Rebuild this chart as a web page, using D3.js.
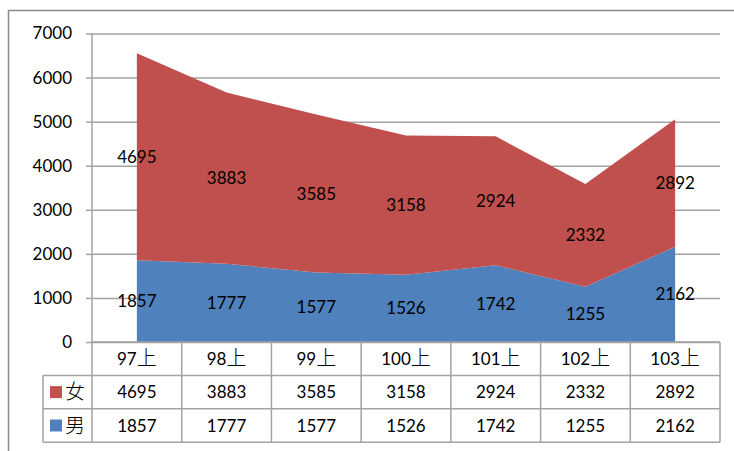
<!DOCTYPE html>
<html>
<head>
<meta charset="utf-8">
<script src="https://cdn.jsdelivr.net/npm/d3@7"></script>
<style>
  body { margin: 0; background: #fff; }
  text { font-family: Lato, "Noto Sans CJK TC", sans-serif; fill: #000; }
  .cjk { font-family: "Noto Sans CJK TC", sans-serif; font-weight: 300; }
</style>
</head>
<body>
<script>
const width = 734;
const height = 451;
const plot = { left: 92, right: 720, top: 33.5, bottom: 342 };
const rowHeight = 33.4;

const categories = ['97上', '98上', '99上', '100上', '101上', '102上', '103上'];
const male = [1857, 1777, 1577, 1526, 1742, 1255, 2162];
const female = [4695, 3883, 3585, 3158, 2924, 2332, 2892];
const yTicks = [0, 1000, 2000, 3000, 4000, 5000, 6000, 7000];

const series = [
  { key: '男', name: '男', values: male, color: '#4f81bd' },
  { key: '女', name: '女', values: female, color: '#c0504d' },
];

const grid = '#a3a3a3';

const svg = d3.select('body')
  .append('svg')
    .attr('width', width)
    .attr('height', height)
    .attr('viewBox', [0, 0, width, height].join(' '));

// outer frame (cropped on the right and bottom)
svg.append('rect')
  .attr('x', 8.5)
  .attr('y', 10.5)
  .attr('width', 760)
  .attr('height', 460)
  .attr('fill', 'none')
  .attr('stroke', '#8c8c8c')
  .attr('stroke-width', 1.5);

const x = d3.scaleBand()
  .domain(categories)
  .range([plot.left, plot.right])
  .padding(0);

const cx = (c) => x(c) + x.bandwidth() / 2;

const y = d3.scaleLinear()
  .domain([0, 7000])
  .range([plot.bottom, plot.top]);

// gridlines
svg.append('g')
  .attr('transform', `translate(${plot.left}, 0)`)
  .call(d3.axisRight(y).tickValues(yTicks).tickSize(plot.right - plot.left).tickFormat(''))
  .call(g => g.select('.domain').remove())
  .call(g => g.selectAll('line').attr('stroke', grid).attr('stroke-width', 1.5));

// stacked areas
const rows = categories.map((c, i) => {
  const r = { cat: c };
  series.forEach(s => r[s.key] = s.values[i]);
  return r;
});

const stacked = d3.stack().keys(series.map(s => s.key))(rows);

const area = d3.area()
  .x(d => cx(d.data.cat))
  .y0(d => y(d[0]))
  .y1(d => y(d[1]));

svg.append('g')
  .selectAll('path')
  .data(stacked)
  .join('path')
    .attr('fill', (d, i) => series[i].color)
    .attr('d', area);

// y axis
svg.append('g')
  .attr('transform', `translate(${plot.left}, 0)`)
  .call(d3.axisLeft(y).tickValues(yTicks).tickSize(6).tickPadding(14).tickFormat(d3.format('d')))
  .call(g => g.select('.domain').remove())
  .call(g => g.selectAll('line').attr('stroke', grid).attr('stroke-width', 1.5))
  .call(g => g.selectAll('text').attr('font-size', 17).attr('fill', '#000')
    .style('font-family', 'Lato, sans-serif'));

// data labels
svg.append('g')
  .selectAll('g')
  .data(stacked)
  .join('g')
  .selectAll('text')
  .data(d => d)
  .join('text')
    .attr('x', d => cx(d.data.cat))
    .attr('y', d => y((d[0] + d[1]) / 2))
    .attr('dy', '0.36em')
    .attr('text-anchor', 'middle')
    .attr('font-size', 17)
    .text(d => d[1] - d[0]);

// data table
const table = svg.append('g');
const tableLeft = 43;
const tableBottom = plot.bottom + rowHeight * 3;

table.append('line')
  .attr('x1', plot.left).attr('x2', plot.right)
  .attr('y1', plot.bottom).attr('y2', plot.bottom);

[1, 2, 3].forEach(r => {
  table.append('line')
    .attr('x1', tableLeft).attr('x2', plot.right)
    .attr('y1', plot.bottom + rowHeight * r).attr('y2', plot.bottom + rowHeight * r);
});

table.append('line')
  .attr('x1', tableLeft).attr('x2', tableLeft)
  .attr('y1', plot.bottom + rowHeight).attr('y2', tableBottom);

table.selectAll('line.col')
  .data(categories.concat(['end']))
  .join('line')
    .attr('class', 'col')
    .attr('x1', (d, i) => plot.left + i * x.bandwidth())
    .attr('x2', (d, i) => plot.left + i * x.bandwidth())
    .attr('y1', (d, i) => i === 0 ? plot.top : plot.bottom)
    .attr('y2', tableBottom);

table.selectAll('line')
  .attr('stroke', grid)
  .attr('stroke-width', 1.5);

const catText = table.selectAll('text.cat')
  .data(categories)
  .join('text')
    .attr('class', 'cat')
    .attr('x', cx)
    .attr('y', plot.bottom + rowHeight / 2)
    .attr('dy', '0.36em')
    .attr('text-anchor', 'middle')
    .attr('font-size', 17);

catText.append('tspan').text(d => d.slice(0, -1));
catText.append('tspan')
  .attr('class', 'cjk')
  .attr('font-size', 20)
  .text(d => d.slice(-1));

const tableSeries = [series[1], series[0]];

tableSeries.forEach((s, r) => {
  const rowY = plot.bottom + rowHeight * (r + 1.5);

  table.append('rect')
    .attr('x', 50)
    .attr('y', rowY - 6)
    .attr('width', 12)
    .attr('height', 12)
    .attr('fill', s.color);

  table.append('text')
    .attr('class', 'cjk')
    .attr('x', 65)
    .attr('y', rowY)
    .attr('dy', '0.36em')
    .attr('font-size', 20)
    .text(s.name);

  table.selectAll(null)
    .data(s.values)
    .join('text')
      .attr('x', (d, i) => cx(categories[i]))
      .attr('y', rowY)
      .attr('dy', '0.36em')
      .attr('text-anchor', 'middle')
      .attr('font-size', 17)
      .text(d => d);
});
</script>
</body>
</html>
